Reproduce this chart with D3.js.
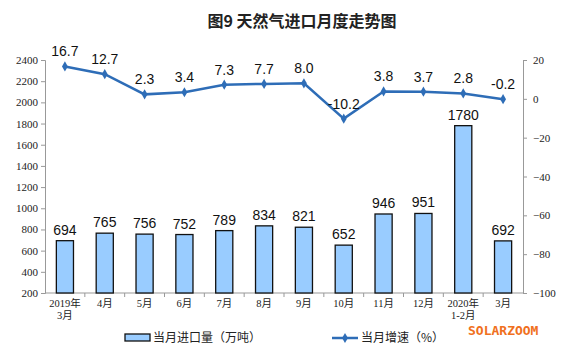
<!DOCTYPE html>
<html><head><meta charset="utf-8">
<script src="https://cdn.jsdelivr.net/npm/d3@7"></script>
<style>body{margin:0;background:#fff}svg{display:block}</style>
</head><body>
<script>
const categories = ["2019年\n3月","4月","5月","6月","7月","8月","9月","10月","11月","12月","2020年\n1-2月","3月"];
const imports = [694,765,756,752,789,834,821,652,946,951,1780,692];
const growth = [16.7,12.7,2.3,3.4,7.3,7.7,8.0,-10.2,3.8,3.7,2.8,-0.2];
const leftTicks = [200,400,600,800,1000,1200,1400,1600,1800,2000,2200,2400];
const rightTicks = [-100,-80,-60,-40,-20,0,20];
const title = "图9  天然气进口月度走势图";
const legendBar = "当月进口量（万吨）";
const legendLine = "当月增速（%）";

const W=561,H=357;
const svg=d3.select("body").append("svg").attr("width",W).attr("height",H);
const L=45,R=523,T=60,B=293;
const font="'Noto Sans CJK SC', 'Liberation Sans', sans-serif";
const x=d3.scaleBand().domain(categories).range([L,R]).paddingInner(0.57).paddingOuter(0.285);
const xb=d3.scaleBand().domain(categories).range([L,R]);
const yL=d3.scaleLinear().domain([200,2400]).range([B,T]);
const yR=d3.scaleLinear().domain([-100,20]).range([B,T]);

svg.append("text").attr("x",302).attr("y",27).attr("text-anchor","middle")
  .attr("font-family",font).attr("font-size",16).attr("font-weight","bold").attr("fill","#222").text(title);

// left axis
const ga=svg.append("g").attr("transform",`translate(${L},0)`)
  .call(d3.axisLeft(yL).tickValues(leftTicks).tickSize(4).tickFormat(d3.format("d")));
ga.selectAll("text").attr("font-family","'Liberation Serif', serif").attr("font-size",11).attr("fill","#222").attr("x",-7);
ga.selectAll("line,path").attr("stroke","#999");
// right axis
const gr=svg.append("g").attr("transform",`translate(${R},0)`)
  .call(d3.axisRight(yR).tickValues(rightTicks).tickSize(4).tickFormat(d3.format("d")));
gr.selectAll("text").attr("font-family","'Liberation Serif', serif").attr("font-size",11).attr("fill","#222").attr("x",10);
gr.selectAll("line,path").attr("stroke","#999");
// bottom axis
svg.append("line").attr("x1",L).attr("x2",R).attr("y1",B).attr("y2",B).attr("stroke","#999");
svg.selectAll(".xt").data(categories.slice(1)).join("line")
  .attr("x1",d=>xb(d)).attr("x2",d=>xb(d)).attr("y1",B).attr("y2",B+4).attr("stroke","#999");
categories.forEach(c=>{
  const lines=c.split("\n");
  const t=svg.append("text").attr("text-anchor","middle").attr("font-family","'Liberation Serif','Noto Sans CJK SC',serif")
    .attr("font-size",10.5).attr("fill","#222");
  lines.forEach((s,i)=>t.append("tspan").attr("x",xb(c)+xb.bandwidth()/2).attr("y",B+14+i*12).text(s));
});

// bars
svg.selectAll(".bar").data(imports).join("rect")
  .attr("x",(d,i)=>x(categories[i])).attr("width",x.bandwidth())
  .attr("y",d=>yL(d)).attr("height",d=>B-yL(d))
  .attr("fill","#99CCFF").attr("stroke","#111").attr("stroke-width",1.3);
svg.selectAll(".bl").data(imports).join("text")
  .attr("x",(d,i)=>xb(categories[i])+xb.bandwidth()/2).attr("y",d=>yL(d)-6)
  .attr("text-anchor","middle").attr("font-family","'Liberation Sans',Arial,sans-serif").attr("font-size",14).attr("fill","#111").text(d=>d);

// line
const cx=i=>xb(categories[i])+xb.bandwidth()/2;
svg.append("path").datum(growth)
  .attr("d",d3.line().x((d,i)=>cx(i)).y(d=>yR(d)))
  .attr("fill","none").attr("stroke","#2E6DB7").attr("stroke-width",2.5);
svg.selectAll(".pt").data(growth).join("path")
  .attr("transform",(d,i)=>`translate(${cx(i)},${yR(d)})`)
  .attr("d",d3.symbol(d3.symbolDiamond,30)).attr("fill","#2E6DB7");
svg.selectAll(".ll").data(growth).join("text")
  .attr("x",(d,i)=>cx(i)).attr("y",d=>yR(d)-10)
  .attr("text-anchor","middle").attr("font-family","'Liberation Sans',Arial,sans-serif").attr("font-size",14).attr("fill","#111").text(d=>d.toFixed(1));

// legend
svg.append("rect").attr("x",125).attr("y",334).attr("width",25).attr("height",7).attr("fill","#99CCFF").attr("stroke","#111").attr("stroke-width",1.3);
svg.append("text").attr("x",153).attr("y",342).attr("font-family",font).attr("font-size",12).attr("fill","#222").text(legendBar);
svg.append("line").attr("x1",332).attr("x2",358).attr("y1",338).attr("y2",338).attr("stroke","#2E6DB7").attr("stroke-width",2.5);
svg.append("path").attr("transform","translate(345,338)").attr("d",d3.symbol(d3.symbolDiamond,30)).attr("fill","#2E6DB7");
svg.append("text").attr("x",361).attr("y",342).attr("font-family",font).attr("font-size",12).attr("fill","#222").text(legendLine);

// watermark
svg.append("text").attr("x",468).attr("y",335).attr("font-family","'DejaVu Sans Mono',monospace").attr("font-size",13).attr("font-weight","bold").attr("fill","#F07020").text("SOLARZOOM");
</script>
</body></html>
